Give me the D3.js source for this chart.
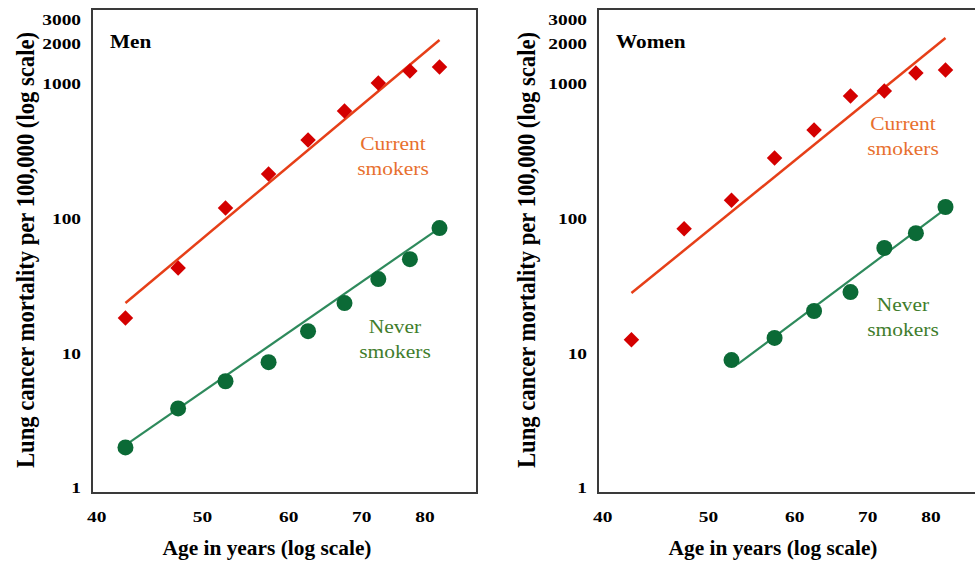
<!DOCTYPE html>
<html>
<head>
<meta charset="utf-8">
<script src="https://cdn.jsdelivr.net/npm/d3@7"></script>
<style>
  body { margin: 0; background: #fff; }
  svg { display: block; font-family: "Liberation Serif", "DejaVu Serif", serif; }
</style>
</head>
<body>
<svg width="975" height="567"></svg>
<script>
// age group midpoints
const ages = [42.5, 47.5, 52.5, 57.5, 62.5, 67.5, 72.5, 77.5, 82.5];
const womenNeverAges = [52.5, 57.5, 62.5, 67.5, 72.5, 77.5, 82.5];

const menCurrent = [18.3, 43, 120, 214, 383, 630, 1016, 1247, 1335];
const menNever = [2.0, 3.9, 6.2, 8.6, 14.6, 23.6, 35.6, 50, 85];
const womenCurrent = [12.6, 84, 137, 282, 455, 813, 886, 1205, 1268];
const womenNever = [8.9, 13.0, 20.6, 28.5, 60.5, 78, 122];

// fitted lines, read as end points [age, rate]
const menCurrentFit = [[42.5, 23.6], [82.5, 2118]];
const menNeverFit = [[42.5, 2.08], [82.5, 85]];
const womenCurrentFit = [[42.5, 28], [82.5, 2191]];
const womenNeverFit = [[53.2, 8.3], [82.5, 118]];

const yTicks = [1, 10, 100, 1000, 2000, 3000];
const xTicks = [40, 50, 60, 70, 80];

const svg = d3.select('svg');

const W = 385, H = 484;
const SX = 1.25; // the original figure is a bit wide: glyphs stretched sideways

function panel(left, title, cur, never, neverAges, curFit, neverFit, curLab, neverLab, yTitleX) {
  const g = svg.append('g').attr('transform', 'translate(' + left + ',9)');

  const x = d3.scaleLog().domain([39.6, 89.3]).range([0, W]);
  const y = d3.scaleLog().domain([0.918, 3600]).range([H, 0]);

  // frame
  g.append('rect')
    .attr('width', W).attr('height', H)
    .attr('fill', 'none').attr('stroke', '#3a3a3a').attr('stroke-width', 2);

  // y tick labels
  g.selectAll('.ytick').data(yTicks).enter().append('text')
    .attr('transform', d => 'translate(-11,' + y(d) + ') scale(' + SX + ',1)')
    .attr('dy', '0.35em')
    .attr('text-anchor', 'end').attr('font-weight', 'bold').attr('font-size', 15.5)
    .text(d => d);

  // x tick labels
  g.selectAll('.xtick').data(xTicks).enter().append('text')
    .attr('transform', d => 'translate(' + x(d) + ',' + (H + 29) + ') scale(' + SX + ',1)')
    .attr('text-anchor', 'middle').attr('font-weight', 'bold').attr('font-size', 15.5)
    .text(d => d);

  // titles
  g.append('text')
    .attr('x', 175).attr('y', H + 62).attr('text-anchor', 'middle')
    .attr('font-weight', 'bold').attr('font-size', 20)
    .attr('textLength', 209).attr('lengthAdjust', 'spacingAndGlyphs')
    .text('Age in years (log scale)');

  g.append('text')
    .attr('transform', 'translate(' + yTitleX + ',' + (H / 2 - 1) + ') scale(' + SX + ',1) rotate(-90)')
    .attr('text-anchor', 'middle').attr('font-weight', 'bold').attr('font-size', 20)
    .attr('textLength', 436).attr('lengthAdjust', 'spacingAndGlyphs')
    .text('Lung cancer mortality per 100,000 (log scale)');

  g.append('text')
    .attr('transform', 'translate(18,39) scale(1.18,1)')
    .attr('font-weight', 'bold').attr('font-size', 18)
    .text(title);

  const line = d3.line().x(d => x(d[0])).y(d => y(d[1]));

  g.append('path').datum(curFit).attr('d', line)
    .attr('stroke', '#e63f18').attr('stroke-width', 2.5).attr('fill', 'none');
  g.append('path').datum(neverFit).attr('d', line)
    .attr('stroke', '#2e8a5c').attr('stroke-width', 2.2).attr('fill', 'none');

  // current smokers: diamonds
  g.selectAll('.cur').data(cur).enter().append('path')
    .attr('d', d3.symbol().type(d3.symbolSquare).size(120))
    .attr('transform', (d, i) => 'translate(' + x(ages[i]) + ',' + y(d) + ') rotate(45)')
    .attr('fill', '#d40000');

  // never smokers: circles
  g.selectAll('.nev').data(never).enter().append('circle')
    .attr('cx', (d, i) => x(neverAges[i])).attr('cy', d => y(d)).attr('r', 8)
    .attr('fill', '#0b6a36');

  // series labels
  const lab = (pos, words, color) => {
    words.forEach((w, k) => {
      g.append('text')
        .attr('transform', 'translate(' + pos[0] + ',' + (pos[1] + k * 25) + ') scale(1.16,1)')
        .attr('text-anchor', 'middle').attr('font-size', 18.5).attr('fill', color)
        .text(w);
    });
  };
  lab(curLab, ['Current', 'smokers'], '#e8702e');
  lab(neverLab, ['Never', 'smokers'], '#3f7d2c');
}

panel(92, 'Men', menCurrent, menNever, ages, menCurrentFit, menNeverFit, [301, 141], [303, 324], -58);
panel(598, 'Women', womenCurrent, womenNever, womenNeverAges, womenCurrentFit, womenNeverFit, [305, 121], [305, 302], -63);
</script>
</body>
</html>
